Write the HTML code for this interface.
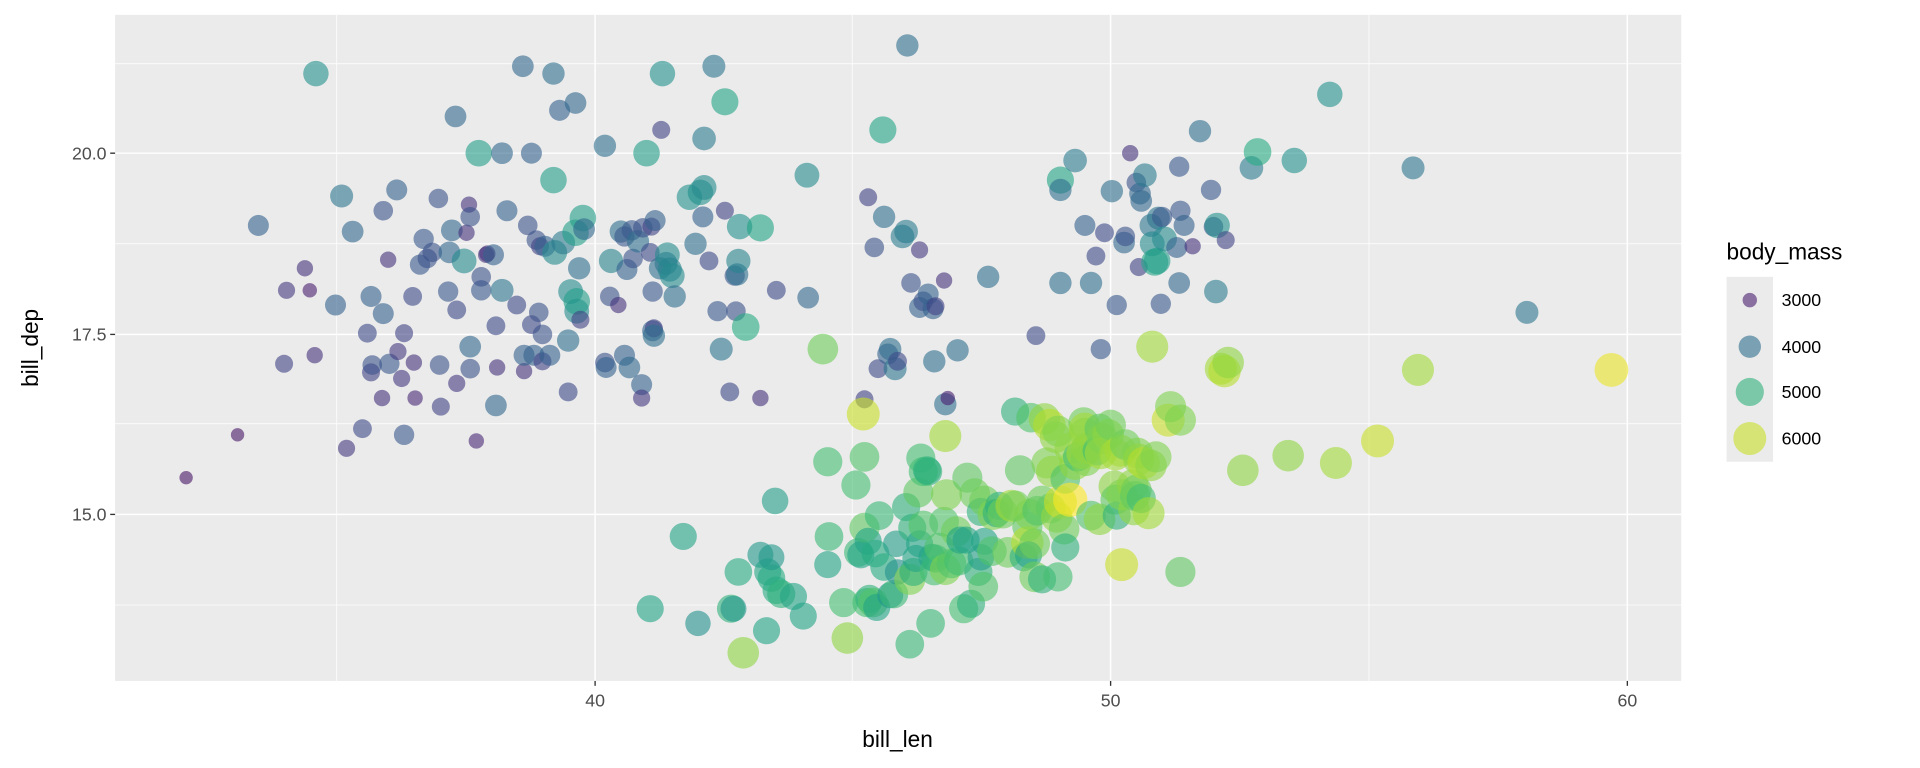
<!DOCTYPE html>
<html><head><meta charset="utf-8"><style>
html,body{margin:0;padding:0;background:#fff;}
svg{display:block;font-family:"Liberation Sans",sans-serif;}
</style></head><body>
<svg id="s" width="1920" height="768" viewBox="0 0 1568 627" xmlns="http://www.w3.org/2000/svg">
<rect x="0" y="0" width="1568" height="627" fill="#fff"/>
<rect x="94" y="12" width="1279" height="544" fill="#ebebeb"/>
<g stroke="#fff" stroke-width="0.6">
<line x1="275" y1="12" x2="275" y2="556"/><line x1="696" y1="12" x2="696" y2="556"/><line x1="1118" y1="12" x2="1118" y2="556"/>
<line x1="94" y1="52" x2="1373" y2="52"/><line x1="94" y1="199" x2="1373" y2="199"/><line x1="94" y1="346" x2="1373" y2="346"/><line x1="94" y1="494" x2="1373" y2="494"/>
</g>
<g stroke="#fff" stroke-width="1.2">
<line x1="486" y1="12" x2="486" y2="556"/><line x1="907" y1="12" x2="907" y2="556"/><line x1="1329" y1="12" x2="1329" y2="556"/>
<line x1="94" y1="125" x2="1373" y2="125"/><line x1="94" y1="273" x2="1373" y2="273"/><line x1="94" y1="420" x2="1373" y2="420"/>
</g>
<g id="pts"></g>
<g stroke="#333" stroke-width="1.1">
<line x1="90" y1="125" x2="94" y2="125"/><line x1="90" y1="273" x2="94" y2="273"/><line x1="90" y1="420" x2="94" y2="420"/>
<line x1="486" y1="556" x2="486" y2="560"/><line x1="907" y1="556" x2="907" y2="560"/><line x1="1329" y1="556" x2="1329" y2="560"/>
</g>
<g fill="#4d4d4d" font-size="14.5">
<text x="87" y="130" text-anchor="end">20.0</text><text x="87" y="278" text-anchor="end">17.5</text><text x="87" y="425" text-anchor="end">15.0</text>
<text x="486" y="577" text-anchor="middle">40</text><text x="907" y="577" text-anchor="middle">50</text><text x="1329" y="577" text-anchor="middle">60</text>
</g>
<text x="733" y="610" text-anchor="middle" font-size="18.5" fill="#000">bill_len</text>
<text transform="translate(31,284) rotate(-90)" text-anchor="middle" font-size="18.5" fill="#000">bill_dep</text>
<text x="1410" y="212" font-size="18.5" fill="#000">body_mass</text>
<rect x="1410" y="226" width="38" height="151" fill="#ebebeb"/>
<g id="leg"></g>
<g fill="#000" font-size="14.5">
<text x="1455" y="250">3000</text><text x="1455" y="288">4000</text><text x="1455" y="325">5000</text><text x="1455" y="363">6000</text>
</g>
</svg>
<script>
var V=["#440154","#482475","#414487","#355f8d","#2a788e","#21918c","#22a884","#44bf70","#7ad151","#bddf26","#fde725"];
function h2r(h){return [parseInt(h.substr(1,2),16),parseInt(h.substr(3,2),16),parseInt(h.substr(5,2),16)];}
function col(t){t=Math.max(0,Math.min(1,t));var f=t*10,i=Math.min(9,Math.floor(f)),u=f-i,a=h2r(V[i]),b=h2r(V[i+1]);
return "rgb("+a.map(function(v,k){return Math.round(v+(b[k]-v)*u)}).join(",")+")";}
function circ(x,y,m){var t=(m-2700)/3600;var r=Math.sqrt(20+176*t);
return '<circle cx="'+x+'" cy="'+y+'" r="'+r.toFixed(2)+'" fill="'+col(t)+'" fill-opacity="0.6"/>';}
var P=[[152,390,2900],[194,355,2900],[258,60,4500],[211,184,3800],[234,237,3300],[249,219,3200],[253,237,3000],[232,297,3400],[257,290,3200],[274,249,3800],[279,160,4100],[288,189,3900],[283,366,3300],[296,350,3500],[300,272,3500],[303,304,3400],[304,298,3600],[303,242,3800],[313,256,3800],[312,325,3200],[317,212,3200],[313,172,3600],[318,297,3700],[324,155,3800],[325,287,3300],[330,272,3400],[328,309,3300],[330,355,3700],[337,242,3500],[338,296,3200],[339,325,3100],[343,216,3700],[346,195,3700],[349,211,3600],[353,206,3600],[358,162,3600],[359,298,3600],[360,332,3400],[366,238,3700],[367,206,3900],[369,188,3900],[372,95,3900],[373,253,3500],[373,313,3300],[379,213,4400],[381,190,3200],[383,167,3200],[384,301,3600],[384,283,3900],[384,177,3600],[389,360,3100],[391,125,4700],[393,237,3700],[393,226,3600],[398,207,3200],[397,208,3200],[403,208,3800],[405,266,3500],[406,300,3200],[405,331,3900],[410,125,3900],[410,237,4100],[414,172,3800],[422,249,3500],[427,54,3900],[428,303,3200],[428,290,3800],[431,184,3600],[434,125,3800],[434,265,3500],[436,290,3800],[438,196,3600],[440,255,3600],[441,201,3400],[443,295,3400],[443,273,3600],[445,201,3800],[449,290,3800],[452,147,4700],[452,60,4000],[453,206,4400],[457,90,3800],[460,198,4200],[464,320,3500],[464,278,4000],[466,238,4400],[470,190,4700],[470,84,3900],[471,254,4400],[471,246,4700],[473,219,4000],[474,261,3400],[476,178,4700],[477,187,3900],[494,119,4000],[494,296,3600],[495,300,3800],[498,242,3600],[499,213,4300],[505,249,3200],[507,189,4000],[510,290,3800],[510,193,3700],[512,220,3800],[514,300,3900],[516,188,3700],[517,211,3600],[521,197,4000],[524,314,3800],[524,325,3300],[525,186,3600],[528,125,4700],[531,206,3500],[532,185,3400],[533,238,3700],[533,270,3800],[534,268,3400],[534,274,4000],[535,180,3800],[539,219,4000],[540,106,3400],[541,60,4500],[544,215,4100],[545,208,4400],[547,220,4300],[549,225,4400],[551,242,4000],[563,161,4500],[568,199,4000],[572,157,4500],[574,177,3800],[575,153,4400],[575,113,4200],[579,213,3500],[583,54,4100],[586,254,3700],[589,285,4100],[592,83,4800],[592,172,3400],[596,320,3500],[600,225,3700],[601,254,3600],[602,224,4000],[603,213,4300],[604,185,4500],[609,267,4900],[621,325,3200],[621,186,4800],[634,237,3500],[659,143,4400],[660,243,3900],
[706,326,3400],[709,161,3400],[714,202,3600],[717,301,3500],[721,106,4800],[722,177,4000],[725,289,3800],[727,285,4000],[731,301,4100],[733,295,3500],[737,193,4200],[740,189,4200],[741,37,4000],[744,231,3600],[751,204,3300],[751,251,3800],[754,246,3600],[758,240,3800],[762,252,3800],[763,295,4000],[764,250,3400],[771,229,3200],[772,330,4000],[774,325,3000],[782,286,4000],[807,226,4000],[846,274,3500],[866,147,4800],[866,155,4000],[866,231,4000],[878,131,4200],[886,184,3800],[891,231,4000],[895,209,3500],[899,285,3700],[902,190,3500],[908,156,4000],[912,249,3700],[918,198,3900],[919,193,3600],[923,125,3200],[928,149,3600],[930,218,3400],[931,158,3900],[932,164,3900],[935,143,4200],[940,184,4100],[941,199,4400],[943,214,4800],[945,213,4700],[946,178,4100],[948,248,3700],[949,177,3700],[951,195,4400],[961,202,3800],[963,136,3700],[963,231,3900],[964,172,3700],[967,184,3800],[974,201,3200],[980,107,4000],[989,155,3700],[991,185,3600],[993,238,4200],[994,184,4500],[1001,196,3400],[1022,137,4200],[1027,124,4900],[1057,131,4500],[1086,77,4500],[1154,137,4100],[1247,255,4100],
[531,497,4800],[558,438,4800],[570,509,4500],[597,497,5000],[599,497,4600],[603,467,4900],[607,533,5700],[621,453,4600],[626,515,4800],[627,467,4800],[630,472,4900],[630,455,4600],[633,409,4700],[634,482,4900],[638,485,5000],[648,487,4800],[656,503,4800],[672,285,5500],[676,461,4800],[676,377,5200],[677,438,5100],[689,492,5200],[692,521,5700],[699,396,5200],[701,451,5100],[703,453,4800],[705,338,6000],[706,431,5400],[706,373,5300],[708,492,5200],[709,442,4800],[710,489,5000],[713,492,5300],[715,452,4900],[716,496,4800],[718,421,5100],[722,463,4900],[727,486,4600],[730,485,5100],[732,444,4700],[733,467,4500],[740,414,5000],[743,526,5100],[743,473,5600],[745,431,5000],[746,467,5000],[748,456,4800],[750,402,5400],[751,444,4800],[752,374,5200],[754,429,5300],[754,385,5200],[757,384,5000],[758,385,5000],[760,509,5100],[761,455,4800],[763,466,5200],[764,456,5000],[767,447,5300],[771,426,5300],[772,356,5800],[772,465,5600],[773,404,5600],[777,460,5300],[781,434,5500],[783,458,5200],[784,441,4800],[787,497,5200],[789,441,4800],[790,390,5400],[793,493,5000],[796,403,5500],[799,467,5000],[801,455,4700],[801,418,5000],[803,479,5300],[804,442,4800],[804,409,5500],[810,450,5300],[811,420,5600],[814,419,5000],[816,413,5000],[819,419,5500],[823,451,5500],[826,413,5800],[829,336,5000],[829,413,5500],[833,384,5400],[836,455,5000],[839,430,5400],[839,443,5900],[840,453,4800],[841,420,5600],[842,341,5300],[845,444,5500],[845,471,5500],[847,417,5300],[851,409,5500],[851,473,5000],[853,342,5700],[855,378,5600],[857,347,5900],[858,415,5400],[859,385,5700],[862,357,5700],[863,422,5700],[864,352,5600],[864,471,5200],[866,410,6000],[869,432,5500],[870,391,5300],[870,447,5000],[874,408,6300],[874,366,5700],[878,379,5700],[880,373,5200],[884,370,5800],[885,345,5500],[886,350,5800],[886,354,5700],[887,376,5600],[888,366,5700],[891,421,5300],[896,368,5200],[898,350,5400],[898,424,5700],[899,370,5800],[900,358,5600],[905,355,5700],[907,347,5500],[910,397,5700],[911,408,5400],[911,371,5800],[912,421,5000],[915,368,5800],[916,404,5600],[916,461,6000],[919,363,5500],[925,396,5700],[926,416,5700],[927,405,5400],[928,400,5500],[929,370,5600],[930,375,5700],[932,407,5200],[934,378,5900],[938,419,5800],[940,380,5700],[941,283,5800],[944,373,5600],[954,343,6000],[956,332,5600],[964,467,5400],[964,343,5600],[997,301,5800],[1000,303,5900],[1003,296,5700],[1015,384,5700],[1052,372,5700],[1091,378,5800],[1125,360,6000],[1158,302,5800],[1316,302,6200]];
var s="";P.forEach(function(p){s+=circ(p[0],p[1],p[2]);});
document.getElementById("pts").innerHTML=s;
document.getElementById("leg").innerHTML=circ(1429,245,3000)+circ(1429,283,4000)+circ(1429,320,5000)+circ(1429,358,6000);
</script>
</body></html>
